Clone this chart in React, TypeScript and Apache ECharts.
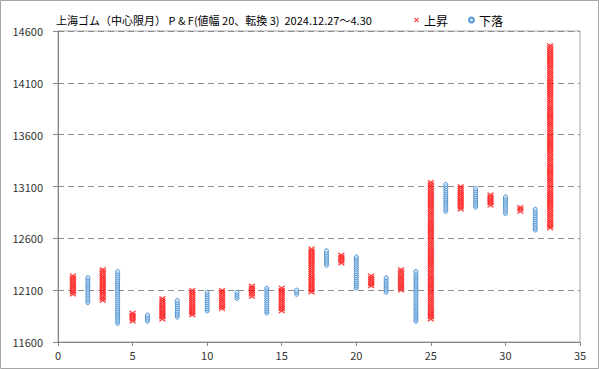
import React, { useEffect, useRef } from "react";
import * as echarts from "echarts";

// Point & Figure columns (odd columns = X 上昇, even = O 下落)
const columnNumbers = [
  1, 2, 3, 4, 5, 6, 7, 8, 9, 10, 11, 12, 13, 14, 15, 16, 17, 18, 19, 20, 21,
  22, 23, 24, 25, 26, 27, 28, 29, 30, 31, 32, 33,
];
const columnTypes = [
  "X", "O", "X", "O", "X", "O", "X", "O", "X", "O", "X", "O", "X", "O", "X",
  "O", "X", "O", "X", "O", "X", "O", "X", "O", "X", "O", "X", "O", "X", "O",
  "X", "O", "X",
];
const columnLows = [
  12060, 11980, 12000, 11780, 11800, 11800, 11820, 11840, 11860, 11900, 11920,
  12020, 12040, 11880, 11900, 12060, 12080, 12340, 12360, 12120, 12140, 12080,
  12100, 11800, 11820, 12860, 12880, 12900, 12920, 12840, 12860, 12680, 12700,
];
const columnHighs = [
  12240, 12220, 12300, 12280, 11880, 11860, 12020, 12000, 12100, 12080, 12100,
  12080, 12140, 12120, 12120, 12100, 12500, 12480, 12440, 12420, 12240, 12220,
  12300, 12280, 13140, 13120, 13100, 13080, 13020, 13000, 12900, 12880, 14460,
];
const boxSize = 20;
const yTicks = [11600, 12100, 12600, 13100, 13600, 14100, 14600];
const xTicks = [0, 5, 10, 15, 20, 25, 30, 35];

const titleText =
  "上海ゴム（中心限月） P & F(値幅 20、転換 3)  2024.12.27～4.30";

const X_PATH =
  "path://M0,1.5L1.5,0L5,3.5L8.5,0L10,1.5L6.5,5L10,8.5L8.5,10L5,6.5L1.5,10L0,8.5L3.5,5Z";

function buildBoxes(type: string): number[][] {
  const out: number[][] = [];
  columnNumbers.forEach((c, i) => {
    if (columnTypes[i] !== type) return;
    for (let v = columnLows[i]; v <= columnHighs[i]; v += boxSize) {
      out.push([c, v]);
    }
  });
  return out;
}

export default function App() {
  const ref = useRef<HTMLDivElement>(null);
  useEffect(() => {
    document.body.style.margin = "0";
    if (!ref.current) return;
    const chart = echarts.init(ref.current, undefined, { renderer: "svg" });
    const font = "'Noto Sans CJK JP', 'Noto Sans', sans-serif";
    chart.setOption({
      animation: false,
      backgroundColor: "#ffffff",
      textStyle: { fontFamily: font },
      title: {
        text: titleText,
        left: 51,
        top: 9,
        textStyle: {
          fontSize: 11,
          fontWeight: "normal",
          color: "#000000",
          fontFamily: font,
        },
      },
      legend: {
        left: 409,
        top: 9,
        itemWidth: 5,
        itemHeight: 5,
        itemGap: 20,
        textStyle: { fontSize: 12, color: "#000000", fontFamily: font },
        data: [
          { name: "上昇", icon: X_PATH },
          { name: "下落", icon: "circle" },
        ],
      },
      grid: {
        left: 58,
        right: 19,
        top: 31,
        bottom: 27,
        show: true,
        borderColor: "#a6a6a6",
        borderWidth: 1,
      },
      xAxis: {
        type: "value",
        min: xTicks[0],
        max: xTicks[xTicks.length - 1],
        interval: 5,
        axisLine: { show: true, lineStyle: { color: "#868686" } },
        axisTick: { show: true, inside: false, length: 4, lineStyle: { color: "#868686" } },
        axisLabel: { fontSize: 11, color: "#333333", margin: 7, fontFamily: font },
        splitLine: { show: false },
      },
      yAxis: {
        type: "value",
        min: yTicks[0],
        max: yTicks[yTicks.length - 1],
        interval: 500,
        axisLine: { show: true, lineStyle: { color: "#868686" } },
        axisTick: { show: true, inside: false, length: 5, lineStyle: { color: "#868686" } },
        axisLabel: {
          fontSize: 11,
          color: "#333333",
          margin: 15,
          fontFamily: font,
          formatter: (v: number) => String(v),
        },
        splitLine: {
          show: true,
          lineStyle: { color: "#8c8c8c", type: [6, 4], width: 1 },
        },
      },
      series: [
        {
          name: "上昇",
          type: "scatter",
          data: buildBoxes("X"),
          symbol: X_PATH,
          symbolSize: [7, 5],
          itemStyle: { color: "#ff1a1a", opacity: 0.85 },
          z: 3,
        },
        {
          name: "下落",
          type: "scatter",
          data: buildBoxes("O"),
          symbol: "circle",
          symbolSize: 4,
          itemStyle: {
            color: "#cfe3f5",
            borderColor: "#2f80c8",
            borderWidth: 1,
          },
          z: 3,
        },
      ],
      graphic: [
        {
          type: "rect",
          shape: { x: 0.5, y: 0.5, width: 598, height: 368 },
          style: { fill: "none", stroke: "#a6a6a6", lineWidth: 1 },
          silent: true,
        },
      ],
    });
    return () => chart.dispose();
  }, []);
  return <div ref={ref} style={{ width: 599, height: 369 }} />;
}
